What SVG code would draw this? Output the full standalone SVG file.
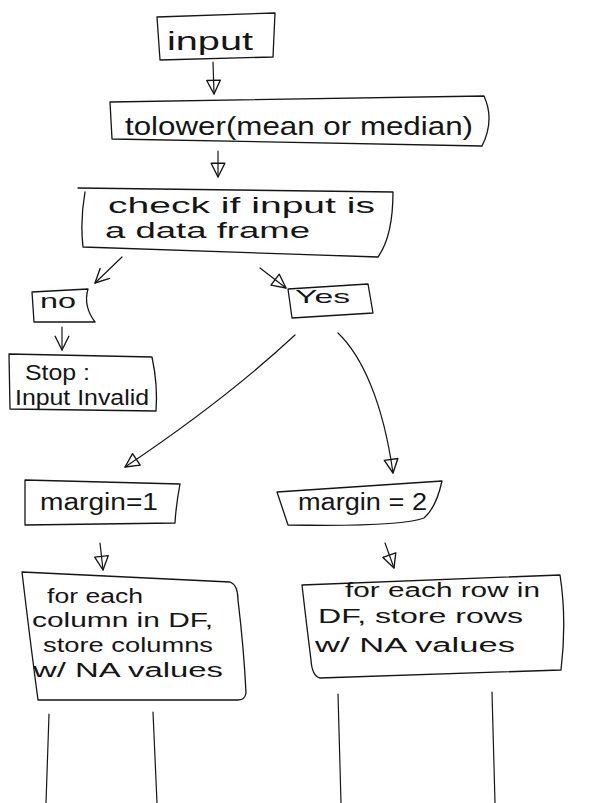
<svg xmlns="http://www.w3.org/2000/svg" width="612" height="803" viewBox="0 0 612 803">
<style>
  .box{fill:none;stroke:#151515;stroke-width:1.3;stroke-linejoin:round;stroke-linecap:round}
  .edge{fill:none;stroke:#151515;stroke-width:1.2;stroke-linecap:round}
  .t{font-family:"Liberation Sans","DejaVu Sans",sans-serif;fill:#151515}
</style>
<defs>
  <marker id="tri" markerUnits="userSpaceOnUse" markerWidth="16" markerHeight="16" viewBox="0 0 14 14" refX="13" refY="7" orient="auto">
    <path d="M1,1 L13,7 L1,13 Z" fill="none" stroke="#151515" stroke-width="1.2" stroke-linejoin="round"/>
  </marker>
  <marker id="vee" markerUnits="userSpaceOnUse" markerWidth="16" markerHeight="16" viewBox="0 0 14 14" refX="13" refY="7" orient="auto">
    <path d="M1,1 L13,7 L1,13" fill="none" stroke="#151515" stroke-width="1.2" stroke-linecap="round" stroke-linejoin="round"/>
  </marker>
</defs>
<rect width="612" height="803" fill="#ffffff"/>

<g id="connectors">
  <path class="edge" d="M213,62 L214,94" marker-end="url(#tri)"/>
  <path class="edge" d="M218,151 L218,177" marker-end="url(#tri)"/>
  <path class="edge" d="M122,257 L95,283" marker-end="url(#vee)"/>
  <path class="edge" d="M260,268 L286,288" marker-end="url(#tri)"/>
  <path class="edge" d="M62,327 L62,350" marker-end="url(#vee)"/>
  <path class="edge" d="M295,335 Q225,400 125,467" marker-end="url(#tri)"/>
  <path class="edge" d="M338,333 C362,356 383,402 393,473" marker-end="url(#tri)"/>
  <path class="edge" d="M100,543 L103,570" marker-end="url(#tri)"/>
  <path class="edge" d="M385,543 L394,568" marker-end="url(#tri)"/>
  <path class="edge" d="M49,714 L46,803"/>
  <path class="edge" d="M153,712 L157,803"/>
  <path class="edge" d="M338,694 L341,803"/>
  <path class="edge" d="M492,692 L495,803"/>
</g>

<g id="node-input">
  <path class="box" d="M157,17 L275,13 L273,57 L160,60 Z"/>
  <text class="t" x="167" y="50" font-size="26" textLength="86" lengthAdjust="spacingAndGlyphs">input</text>
</g>

<g id="node-tolower">
  <path class="box" d="M110,102 L484,96 Q495,120 482,146 L112,139 Z"/>
  <text class="t" x="125" y="135" font-size="25" textLength="348" lengthAdjust="spacingAndGlyphs">tolower(mean or median)</text>
</g>

<g id="node-check">
  <path class="box" d="M78,188 L393,192 Q393,236 378,257 L83,247 Q80,220 85,192"/>
  <text class="t" x="108" y="213" font-size="22" textLength="267" lengthAdjust="spacingAndGlyphs">check if input is</text>
  <text class="t" x="105" y="238" font-size="22" textLength="205" lengthAdjust="spacingAndGlyphs">a data frame</text>
</g>

<g id="node-no">
  <path class="box" d="M32,292 L88,289 Q83,306 95,322 L34,322 Z"/>
  <text class="t" x="40" y="308" font-size="21" textLength="36" lengthAdjust="spacingAndGlyphs">no</text>
</g>

<g id="node-yes">
  <path class="box" d="M288,289 L368,284 L373,313 L292,318 Z"/>
  <text class="t" x="295" y="303" font-size="19" textLength="55" lengthAdjust="spacingAndGlyphs">Yes</text>
</g>

<g id="node-stop">
  <path class="box" d="M9,354 L152,357 Q158,385 156,411 L10,409 Z"/>
  <text class="t" x="25" y="380" font-size="22" textLength="65" lengthAdjust="spacingAndGlyphs">Stop :</text>
  <text class="t" x="15" y="405" font-size="22" textLength="134" lengthAdjust="spacingAndGlyphs">Input Invalid</text>
</g>

<g id="node-margin1">
  <path class="box" d="M25,480 L180,484 Q176,505 175,523 L25,525 Z"/>
  <text class="t" x="40" y="510" font-size="23" textLength="118" lengthAdjust="spacingAndGlyphs">margin=1</text>
</g>

<g id="node-margin2">
  <path class="box" d="M277,492 L442,481 Q436,508 424,518 Q400,527 288,525 Z"/>
  <text class="t" x="298" y="510" font-size="23" textLength="129" lengthAdjust="spacingAndGlyphs">margin = 2</text>
</g>

<g id="node-columns">
  <path class="box" d="M22,572 L230,582 Q238,585 238,600 Q244,650 246,693 Q245,700 238,700 L38,700 Q30,640 22,572 Z"/>
  <text class="t" x="47" y="603" font-size="20" textLength="96" lengthAdjust="spacingAndGlyphs">for each</text>
  <text class="t" x="32" y="627" font-size="20" textLength="181" lengthAdjust="spacingAndGlyphs">column in DF,</text>
  <text class="t" x="43" y="652" font-size="20" textLength="170" lengthAdjust="spacingAndGlyphs">store columns</text>
  <text class="t" x="33" y="677" font-size="20" textLength="190" lengthAdjust="spacingAndGlyphs">w/ NA values</text>
</g>

<g id="node-rows">
  <path class="box" d="M302,585 L560,575 Q567,620 561,670 L320,678 Q312,676 311,660 Q306,620 302,585 Z"/>
  <text class="t" x="345" y="597" font-size="20" textLength="195" lengthAdjust="spacingAndGlyphs">for each row in</text>
  <text class="t" x="318" y="623" font-size="20" textLength="205" lengthAdjust="spacingAndGlyphs">DF, store rows</text>
  <text class="t" x="315" y="652" font-size="20" textLength="200" lengthAdjust="spacingAndGlyphs">w/ NA values</text>
</g>
</svg>
